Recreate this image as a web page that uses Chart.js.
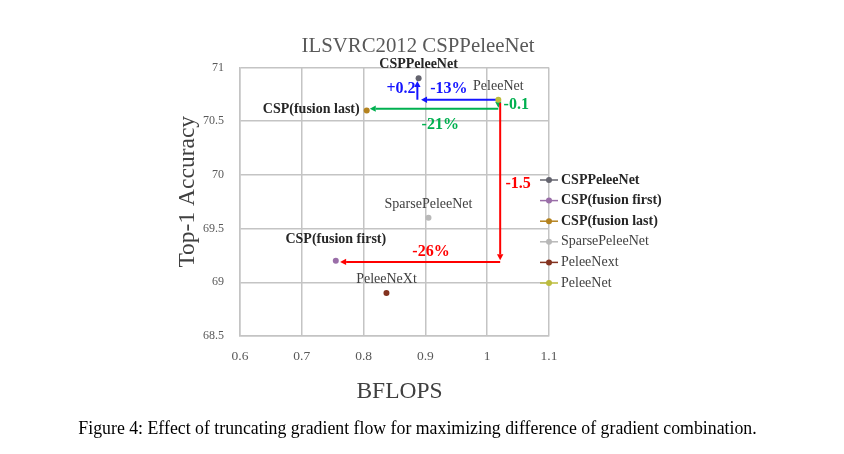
<!DOCTYPE html>
<html><head><meta charset="utf-8">
<script src="https://cdn.jsdelivr.net/npm/chart.js@4/dist/chart.umd.min.js"></script>
<style>
html,body{margin:0;padding:0;background:#fff;}
#wrap{position:relative;width:844px;height:454px;}
canvas{position:absolute;left:0;top:0;}
#cap{position:absolute;left:0;width:835px;top:418px;text-align:center;font:17.8px "Liberation Serif","Times New Roman",serif;color:#000;white-space:nowrap;}
</style></head><body>
<div id="wrap"><canvas id="c" width="844" height="454"></canvas>
<div id="cap">Figure 4: Effect of truncating gradient flow for maximizing difference of gradient combination.</div></div>
<script>
// ---- data ----
const models = ['CSPPeleeNet','CSP(fusion first)','CSP(fusion last)','SparsePeleeNet','PeleeNeXt','PeleeNet'];
const legendNames = ['CSPPeleeNet','CSP(fusion first)','CSP(fusion last)','SparsePeleeNet','PeleeNext','PeleeNet'];
const boldName = [true, true, true, false, false, false];
const bflops = [0.889, 0.755, 0.805, 0.905, 0.837, 1.018];
const top1 = [70.9, 69.2, 70.6, 69.6, 68.9, 70.7];
const xTicks = [0.6, 0.7, 0.8, 0.9, 1, 1.1];
const yTicks = [68.5, 69, 69.5, 70, 70.5, 71];
const chartTitle = 'ILSVRC2012 CSPPeleeNet';
const xTitle = 'BFLOPS';
const yTitle = 'Top-1 Accuracy';
// change arrows (data coordinates)
const arrowX1 = [1.018, 0.887, 1.018, 1.018, 1.021, 1.021];
const arrowY1 = [70.70, 70.70, 70.70, 70.617, 70.67, 69.19];
const arrowX2 = [0.893, 0.887, 1.018, 0.810, 1.021, 0.762];
const arrowY2 = [70.70, 70.875, 70.625, 70.617, 69.205, 69.19];
const arrowGroup = [0, 0, 1, 1, 2, 2];
const changeText = ['-13%', '+0.2', '-0.1', '-21%', '-1.5', '-26%'];
const changeTextX = [0.938, 0.8605, 1.047, 0.924, 1.05, 0.909];
const changeTextY = [70.80, 70.80, 70.65, 70.464, 69.92, 69.28];

// ---- styles ----
const F = '"Liberation Serif","Times New Roman",serif';
const colors = ['#64646e', '#9a6ea8', '#b4821e', '#b8b8b8', '#83321f', '#bcbc3c'];
const groupColors = ['#1414ff', '#00b050', '#ff0000'];
// label placement: [dx, dy, align]
const labelPlace = [[0,-14,'center'],[0,-21,'center'],[-7,-1,'right'],[0,-14,'center'],[0,-14,'center'],[0,-13,'center']];

const annot = {
  id: 'annot',
  beforeDatasetsDraw(chart) {
    const {ctx, scales: {x, y}} = chart;
    ctx.save();
    for (let i = 0; i < arrowX1.length; i++) {
      const c = groupColors[arrowGroup[i]];
      const x1 = x.getPixelForValue(arrowX1[i]), y1 = y.getPixelForValue(arrowY1[i]);
      const x2 = x.getPixelForValue(arrowX2[i]), y2 = y.getPixelForValue(arrowY2[i]);
      const ang = Math.atan2(y2 - y1, x2 - x1);
      const hl = 6, hw = 3.2;
      const bx = x2 - hl * Math.cos(ang), by = y2 - hl * Math.sin(ang);
      ctx.strokeStyle = c; ctx.fillStyle = c; ctx.lineWidth = 2;
      ctx.beginPath(); ctx.moveTo(x1, y1); ctx.lineTo(bx, by); ctx.stroke();
      ctx.beginPath();
      ctx.moveTo(x2, y2);
      ctx.lineTo(bx + hw * Math.sin(ang), by - hw * Math.cos(ang));
      ctx.lineTo(bx - hw * Math.sin(ang), by + hw * Math.cos(ang));
      ctx.closePath(); ctx.fill();
    }
    ctx.restore();
  },
  afterDatasetsDraw(chart) {
    const {ctx, scales: {x, y}} = chart;
    ctx.save();
    ctx.textBaseline = 'middle';
    for (let i = 0; i < models.length; i++) {
      const px = x.getPixelForValue(bflops[i]), py = y.getPixelForValue(top1[i]);
      const [dx, dy, al] = labelPlace[i];
      ctx.font = (boldName[i] ? 'bold ' : '') + '14px ' + F;
      ctx.fillStyle = boldName[i] ? '#262626' : '#404040';
      ctx.textAlign = al;
      ctx.fillText(models[i], px + dx, py + dy);
    }
    ctx.font = 'bold 16px ' + F;
    for (let i = 0; i < changeText.length; i++) {
      ctx.fillStyle = groupColors[arrowGroup[i]];
      ctx.textAlign = 'center';
      ctx.fillText(changeText[i], x.getPixelForValue(changeTextX[i]), y.getPixelForValue(changeTextY[i]));
    }
    ctx.restore();
  },
  afterDraw(chart) {
    const {ctx, chartArea: ca} = chart;
    ctx.save();
    // titles
    ctx.textAlign = 'center'; ctx.textBaseline = 'middle';
    ctx.fillStyle = '#595959';
    ctx.font = '20.8px ' + F;
    ctx.fillText(chartTitle, chart.width / 2 - 4, ca.top - 20.5);
    ctx.fillStyle = '#404040';
    ctx.font = '23.5px ' + F;
    ctx.fillText(xTitle, (ca.left + ca.right) / 2 + 5, ca.bottom + 56);
    ctx.save();
    ctx.translate(ca.left - 52, (ca.top + ca.bottom) / 2 - 10);
    ctx.rotate(-Math.PI / 2);
    ctx.fillText(yTitle, 0, 0);
    ctx.restore();
    // legend
    const lx = ca.right - 9;
    for (let i = 0; i < legendNames.length; i++) {
      const ly = 180 + i * 20.6;
      ctx.strokeStyle = colors[i]; ctx.lineWidth = 1.5;
      ctx.beginPath(); ctx.moveTo(lx, ly); ctx.lineTo(lx + 18, ly); ctx.stroke();
      ctx.fillStyle = colors[i];
      ctx.beginPath(); ctx.arc(lx + 9, ly, 3, 0, Math.PI * 2); ctx.fill();
      ctx.font = (boldName[i] ? 'bold ' : '') + '14px ' + F;
      ctx.fillStyle = boldName[i] ? '#262626' : '#404040';
      ctx.textAlign = 'left'; ctx.textBaseline = 'middle';
      ctx.fillText(legendNames[i], lx + 21, ly);
    }
    ctx.restore();
  }
};

const datasets = models.map((m, i) => ({
  label: legendNames[i],
  data: [{x: bflops[i], y: top1[i]}],
  backgroundColor: colors[i], borderColor: colors[i],
  pointRadius: 3, pointHoverRadius: 3, borderWidth: 0
}));

const gridC = '#c4c4c4';
new Chart(document.getElementById('c'), {
  type: 'scatter',
  data: {datasets},
  plugins: [annot],
  options: {
    responsive: false, animation: false, devicePixelRatio: 1,
    layout: {padding: {left: 175, right: 295, top: 67.5, bottom: 88}},
    plugins: {legend: {display: false}, tooltip: {enabled: false}, title: {display: false}},
    scales: {
      x: {
        type: 'linear', min: 0.6, max: 1.1,
        afterBuildTicks: s => { s.ticks = xTicks.map(v => ({value: v})); },
        afterFit: s => { s.height = 30; },
        ticks: {color: '#595959', font: {family: F, size: 13.5}, padding: 12, callback: v => String(v)},
        grid: {color: gridC, lineWidth: 1.5, drawTicks: false},
        border: {color: gridC, width: 1.5}
      },
      y: {
        type: 'linear', min: 68.5, max: 71,
        afterBuildTicks: s => { s.ticks = yTicks.map(v => ({value: v})); },
        afterFit: s => { s.width = 65; },
        ticks: {color: '#595959', font: {family: F, size: 12}, padding: 16, callback: v => String(v)},
        grid: {color: gridC, lineWidth: 1.5, drawTicks: false},
        border: {color: gridC, width: 1.5}
      }
    }
  }
});
</script>
</body></html>
